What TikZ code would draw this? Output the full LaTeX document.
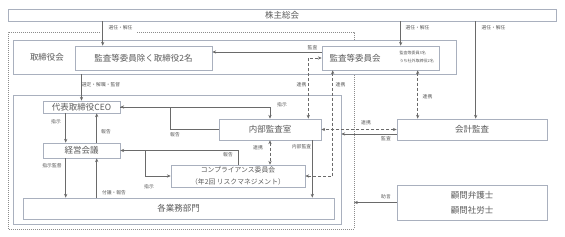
\documentclass[tikz,border=0pt]{standalone}
\usepackage{fontspec}
\setmainfont{Noto Sans CJK JP}
\usetikzlibrary{arrows.meta}

\definecolor{boxline}{HTML}{A9B0BE}
\definecolor{arrline}{HTML}{6A6A6A}
\definecolor{txtgray}{HTML}{5A5A5A}
\definecolor{dotline}{HTML}{8C8C8C}

\begin{document}
\begin{tikzpicture}[x=1pt,y=-1pt,>={Stealth[length=3.8pt,width=3.2pt]},
  box/.style={draw=boxline,fill=white,line width=0.6pt,inner sep=0pt,text=txtgray,font=\fontsize{8.5}{10}\selectfont},
  plain/.style={text=txtgray,font=\fontsize{8.5}{10}\selectfont,inner sep=0pt},
  lbl/.style={text=txtgray,font=\fontsize{4.8}{5}\selectfont,inner sep=0.5pt},
  arr/.style={->,draw=arrline,line width=0.7pt},
  darr/.style={<->,draw=arrline,line width=0.7pt,dash pattern=on 3pt off 2pt}]

\useasboundingbox (0,0) rectangle (565,237);

% =====================
% Livelli
% =====================
\def\LabelY{28}
\def\RenkeiY{85}

% =====================
% 株主総会 + gruppo
% =====================
\node[box,minimum width=548pt,minimum height=12pt] (soukai) at (282,15) {株主総会};

\coordinate (grpNW) at (8,32);
\coordinate (grpSE) at (354,229);
\draw[dotline,line width=0.6pt,dash pattern=on 0.8pt off 1.2pt]
(100,32) -- (grpNW) |- (grpSE) |- (137,32);

\node[box,minimum width=328pt,minimum height=129pt] (shikko) at (177,159.5) {};

% =====================
% 取締役会
% =====================
\node[box,minimum width=443pt,minimum height=34pt] (torishimari) at (234.5,57) {};
\node[plain] (torilbl) at (47,57) {取締役会};
\node[box,minimum width=137pt,minimum height=24pt] (exec2) at (143.5,58) {監査等委員除く取締役2名};
\node[box,minimum width=117pt,minimum height=24pt] (kansa) at (380.5,58) {};
\node[plain] (kansalbl) at (355,58) {監査等委員会};
\node[lbl,align=left,anchor=west,font=\fontsize{4}{8}\selectfont] (kansanote) at (399,56.5)
{監査等委員3名\\うち社外取締役2名};

% =====================
% Esecuzione
% =====================
\node[box,minimum width=77pt,minimum height=12pt] (ceo) at (81.5,107) {代表取締役CEO};
\node[box,minimum width=77pt,minimum height=15pt] (keiei) at (81.5,150.5) {経営会議};
\node[box,minimum width=311pt,minimum height=21pt] (gyomu) at (178.5,208.5) {各業務部門};
\node[box,minimum width=102pt,minimum height=21pt] (naibu) at (270,129.5) {内部監査室};
\node[box,minimum width=134pt,minimum height=22pt,align=center,font=\fontsize{6.8}{11.5}\selectfont] (comp) at (238,176)
{コンプライアンス委員会\\（年2回 リスクマネジメント）};

% =====================
% Esterni
% =====================
\node[box,minimum width=150pt,minimum height=21pt] (kaikei) at (472,129.5) {会計監査};
\node[box,minimum width=150pt,minimum height=35pt,align=center,font=\fontsize{8.5}{15}\selectfont] (komon) at (472,202.5)
{顧問弁護士\\顧問社労士};

% =====================
% Frecce dal 株主総会
% =====================
\draw[arr] ([xshift=28pt]exec2.north west |- soukai.south) -- ([xshift=28pt]exec2.north west);
\draw[arr] ([xshift=79pt]kansa.north west |- soukai.south) -- ([xshift=79pt]kansa.north west);
\draw[arr] ([xshift=79pt]kaikei.north west |- soukai.south) -- ([xshift=79pt]kaikei.north west);
\node[lbl] (sennin1) at (120.5,\LabelY) {選任・解任};
\node[lbl] (sennin2) at (417.5,\LabelY) {選任・解任};
\node[lbl] (sennin3) at (493.5,\LabelY) {選任・解任};

\draw[arr] ([yshift=6pt]kansa.west) -- ([yshift=6pt]kansa.west -| exec2.east);
\node[lbl] (kansa1) at (312.5,47.5) {監査};

\draw[arr] (ceo.north |- torishimari.south) -- (ceo.north);
\node[lbl] (sentei) at (101,85) {選定・解職・監督};

% =====================
% CEO / 経営会議 / 各業務部門
% =====================
\draw[arr] ([xshift=23pt]ceo.south west) -- ([xshift=23pt]ceo.south west |- keiei.north);
\draw[arr] ([xshift=54pt]keiei.north west) -- ([xshift=54pt]keiei.north west |- ceo.south);
\node[lbl] (shiji1) at (56,121.5) {指示};
\node[lbl] (houkoku1) at (106,132) {報告};

\draw[arr] ([xshift=23pt]keiei.south west) -- ([xshift=23pt]keiei.south west |- gyomu.north);
\draw[arr] ([xshift=54pt]keiei.south west |- gyomu.north) -- ([xshift=54pt]keiei.south west);
\node[lbl] (shijikantoku) at (52,166) {指示監督};
\node[lbl] (fugi) at (114,193) {付議・報告};

% =====================
% 内部監査室 / コンプライアンス
% =====================
\draw[arr] (ceo.east) -| (naibu.north);
\draw[arr] (naibu.west) -| ([xshift=50pt]ceo.east) -- (ceo.east);
\node[lbl] (shiji2) at (282,104.5) {指示};
\node[lbl] (houkoku2) at (175,135) {報告};

\draw[arr] ([xshift=25pt]keiei.east) |- (comp.west);
\draw[arr] (comp.north) |- (keiei.east);
\node[lbl] (shiji3) at (149,187) {指示};
\node[lbl] (houkoku3) at (228,155) {報告};

\draw[darr] (naibu.south) -- (naibu.south |- comp.north);
\node[lbl] (renkei1) at (258,148) {連携};

\draw[arr] ([xshift=-9pt]naibu.south east) -- ([xshift=-9pt]naibu.south east |- gyomu.north);
\node[lbl] (naibukansa) at (301.5,147) {内部監査};

% =====================
% 連携 (tratteggiate)
% =====================
\draw[darr] ([xshift=-13pt]naibu.north east) |- (kansa.west);
\draw[darr] ([xshift=11pt]kansa.south west) |- (comp.east);
\node[lbl] (renkei2) at (301.5,\RenkeiY) {連携};
\node[lbl] (renkei3) at (340.5,\RenkeiY) {連携};

\draw[darr] ([xshift=96pt]kansa.south west) -- ([xshift=96pt]kansa.south west |- kaikei.north);
\node[lbl] (renkei4) at (427.5,97) {連携};

\draw[darr] (kaikei.west) -- (naibu.east);
\node[lbl] (renkei5) at (366,122.5) {連携};

\draw[arr] ([yshift=-4.5pt]kaikei.west) -- ([yshift=-4.5pt]kaikei.west -| shikko.east);
\node[lbl] (kansa2) at (386,139) {監査};

\draw[arr] (komon.west) -- (komon.west -| grpSE);
\node[lbl] (jogen) at (386,197) {助言};

\end{tikzpicture}
\end{document}
